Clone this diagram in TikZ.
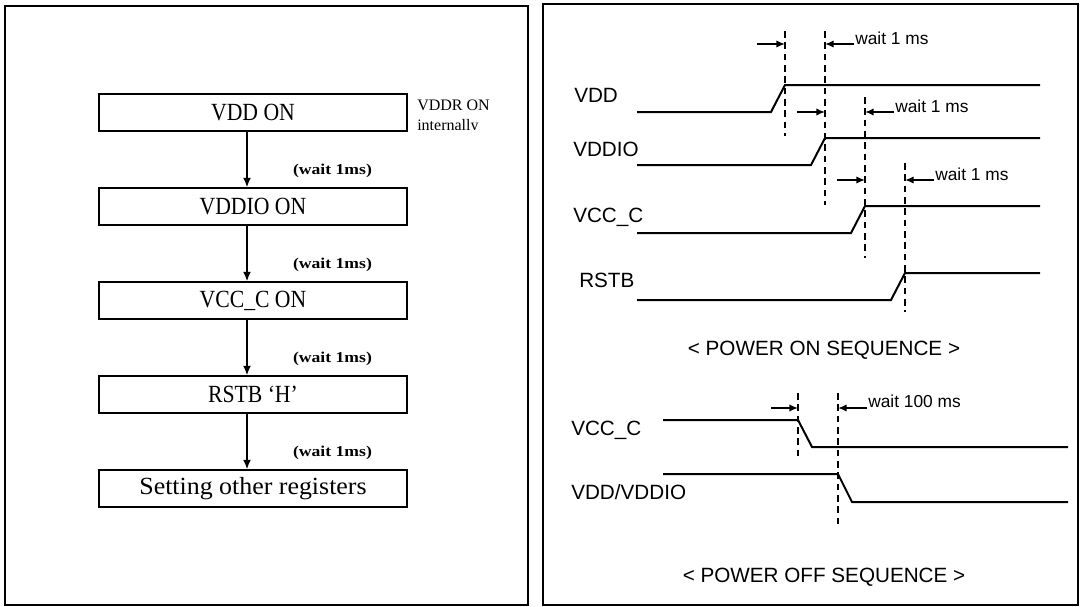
\documentclass[tikz,border=0pt]{standalone}
\usepackage{fontspec}
\setmainfont{Liberation Serif}
\setsansfont{Liberation Sans}
\newfontfamily\wideserif[FakeStretch=1.17]{Liberation Serif}
\newfontfamily\tallserif[FakeStretch=0.88]{Liberation Serif}
\newfontfamily\regserif[FakeStretch=1.05]{Liberation Serif}
\usetikzlibrary{positioning,arrows.meta}

\begin{document}
\begin{tikzpicture}[x=0.75pt, y=-0.75pt, node distance={41.5pt},
    stepbox/.style = {draw, line width=1.5pt, minimum width=231pt, minimum height=27.5pt, inner sep=0pt, font=\tallserif\fontsize{18.5}{20}\selectfont},
    waitlbl/.style = {font=\wideserif\bfseries\fontsize{11.3}{13}\selectfont, inner sep=0pt},
    note/.style = {anchor=base west, inner sep=0pt, font=\fontsize{12}{13.5}\selectfont},
    flow/.style = {-{Latex[length=7pt,width=6pt]}, line width=1.1pt},
    sig/.style = {line width=1.5pt},
    dashline/.style = {line width=1.5pt, dash pattern=on 5pt off 3.5pt},
    gaparrow/.style = {-{Latex[length=6.5pt,width=5.5pt]}, line width=1.2pt},
    lbl/.style = {anchor=base west, inner sep=0pt, font=\sffamily\fontsize{15.5}{17}\selectfont},
    waitms/.style = {anchor=base west, inner sep=0pt, font=\sffamily\fontsize{13}{15}\selectfont},
    title/.style = {inner sep=0pt, font=\sffamily\fontsize{15.5}{17}\selectfont}]
    \useasboundingbox (0,0) rectangle (1083,607);
    \draw[line width=1.5pt] (5,6) rectangle (528,605);
    \draw[line width=1.5pt] (543,4) rectangle (1078,605);

    \node[stepbox] (1) at (253,112.5) {VDD ON};
    \node[stepbox] (2) [below=of 1] {VDDIO ON};
    \node[stepbox] (3) [below=of 2] {VCC\_C ON};
    \node[stepbox] (4) [below=of 3] {RSTB ‘H’};
    \node[stepbox, font=\regserif\fontsize{18.5}{20}\selectfont] (5) [below=of 4] {Setting other registers};

    \path[flow] ([xshift=-4.5pt]1.south) edge node[waitlbl, pos=0.7, right=34pt] {(wait 1ms)} ([xshift=-4.5pt]2.north);
    \path[flow] ([xshift=-4.5pt]2.south) edge node[waitlbl, pos=0.7, right=34pt] {(wait 1ms)} ([xshift=-4.5pt]3.north);
    \path[flow] ([xshift=-4.5pt]3.south) edge node[waitlbl, pos=0.7, right=34pt] {(wait 1ms)} ([xshift=-4.5pt]4.north);
    \path[flow] ([xshift=-4.5pt]4.south) edge node[waitlbl, pos=0.7, right=34pt] {(wait 1ms)} ([xshift=-4.5pt]5.north);

    \begin{scope}
        \clip (410,94) rectangle (525,129.5);
        \node[note] (vddr) at (417,110) {VDDR ON};
        \node[note] (inter) at (417,130) {internally};
    \end{scope}

    % power on
    \foreach \nm/\lx/\hy/\by/\rx [count=\i] in {VDD/574/85/102/785, VDDIO/573/138/156/825, VCC\_C/573/206/222/865, RSTB/579/273/287/905} {
        \draw[sig] (637,\hy+27) -- (\rx-14,\hy+27) -- (\rx,\hy) -- (1040,\hy);
        \node[lbl] (on\i) at (\lx,\by) {\nm};
    }
    \foreach \dx/\ya/\yb in {785/31/136, 825/31/205, 865/97/258, 905/163/312}
        \draw[dashline] (\dx,\ya) -- (\dx,\yb);
    \foreach \ax/\bx/\ay [count=\i] in {785/825/44, 825/865/112, 865/905/180} {
        \draw[gaparrow] (\ax-28,\ay) -- (\ax,\ay);
        \draw[gaparrow] (\bx+29,\ay) -- (\bx,\ay);
        \node[waitms] (w\i) at (\bx+30,\ay) {wait 1 ms};
    }
    \node[title] (ontitle) at (824,350) {< POWER ON SEQUENCE >};

    % power off
    \draw[sig] (663,420) -- (798,420) -- (812,447) -- (1068,447);
    \draw[sig] (663,474) -- (838,474) -- (852,502) -- (1068,502);
    \node[lbl] (off1) at (571,435) {VCC\_C};
    \node[lbl] (off2) at (571,499) {VDD/VDDIO};
    \draw[dashline] (798,393) -- (798,457);
    \draw[dashline] (838,393) -- (838,527);
    \draw[gaparrow] (771,408) -- (798,408);
    \draw[gaparrow] (867,408) -- (838,408);
    \node[waitms] (w4) at (868,407) {wait 100 ms};
    \node[title] (offtitle) at (824,577) {< POWER OFF SEQUENCE >};
\end{tikzpicture}
\end{document}
